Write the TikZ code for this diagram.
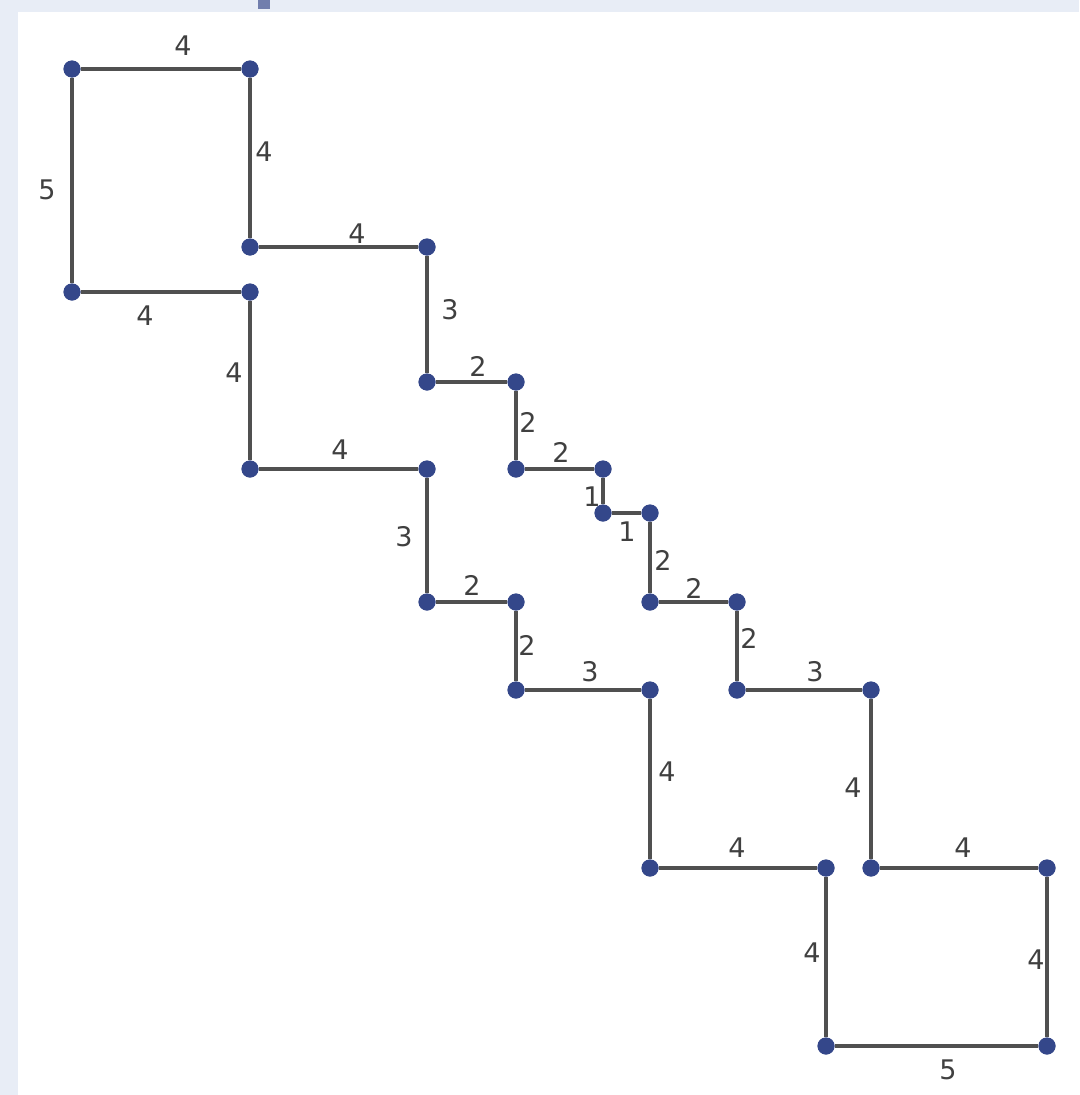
\documentclass[tikz,border=0pt]{standalone}
\usepackage{fontspec}
\setmainfont{DejaVu Sans}
\begin{document}
\begin{tikzpicture}[x=1pt,y=-1pt,
  dot/.style={circle,fill=dotblue,inner sep=0pt,minimum size=17pt},
  edge/.style={draw=linegray,line width=3.2pt},
  lab/.style={text=labgray,font=\fontsize{27}{30}\selectfont,inner sep=0pt}]
\definecolor{dotblue}{HTML}{34478A}
\definecolor{linegray}{HTML}{505050}
\definecolor{labgray}{HTML}{404040}
\definecolor{bgstrip}{HTML}{E8EDF6}
\useasboundingbox (0,0) rectangle (1079,1095);
\fill[white] (0,0) rectangle (1079,1095);
\fill[bgstrip] (0,0) rectangle (18,1095);
\fill[bgstrip] (0,0) rectangle (1079,12);
\fill[dotblue!70] (258,0) rectangle (270,9);
% vertices
\node[dot] (A) at (72,69) {};
\node[dot] (B) at (250,69) {};
\node[dot] (C) at (250,247) {};
\node[dot] (D) at (72,292) {};
\node[dot] (E) at (250,292) {};
\node[dot] (F) at (427,247) {};
\node[dot] (G) at (427,382) {};
\node[dot] (H) at (516,382) {};
\node[dot] (I) at (516,469) {};
\node[dot] (J) at (603,469) {};
\node[dot] (K) at (603,513) {};
\node[dot] (L) at (650,513) {};
\node[dot] (M) at (650,602) {};
\node[dot] (N) at (737,602) {};
\node[dot] (O) at (737,690) {};
\node[dot] (P) at (871,690) {};
\node[dot] (Q) at (871,868) {};
\node[dot] (R) at (1047,868) {};
\node[dot] (S) at (1047,1046) {};
\node[dot] (T) at (826,1046) {};
\node[dot] (U) at (826,868) {};
\node[dot] (V) at (650,868) {};
\node[dot] (W) at (650,690) {};
\node[dot] (X) at (516,690) {};
\node[dot] (Y) at (516,602) {};
\node[dot] (Z) at (427,602) {};
\node[dot] (AA) at (427,469) {};
\node[dot] (BB) at (250,469) {};
% edges
\path[edge] (A) -- (B) (B) -- (C) (A) -- (D) (D) -- (E) (C) -- (F) (F) -- (G)
  (G) -- (H) (H) -- (I) (I) -- (J) (J) -- (K) (K) -- (L) (L) -- (M) (M) -- (N)
  (N) -- (O) (O) -- (P) (P) -- (Q) (Q) -- (R) (R) -- (S) (S) -- (T) (T) -- (U)
  (U) -- (V) (V) -- (W) (W) -- (X) (X) -- (Y) (Y) -- (Z) (Z) -- (AA) (AA) -- (BB)
  (BB) -- (E);
% redraw dots above lines
\foreach \n in {A,B,C,D,E,F,G,H,I,J,K,L,M,N,O,P,Q,R,S,T,U,V,W,X,Y,Z,AA,BB}
  \fill[dotblue] (\n.center) circle (8.5pt);
% labels
\node[lab] (lAB) at (183,46) {4};
\node[lab] (lBC) at (264,152) {4};
\node[lab] (lAD) at (47,190) {5};
\node[lab] (lDE) at (145,316) {4};
\node[lab] (lCF) at (357,234) {4};
\node[lab] (lFG) at (450,310) {3};
\node[lab] (lGH) at (478,366) {2};
\node[lab] (lHI) at (528,422) {2};
\node[lab] (lIJ) at (561,452) {2};
\node[lab] (lJK) at (592,497) {1};
\node[lab] (lKL) at (627,532) {1};
\node[lab] (lLM) at (663,560) {2};
\node[lab] (lMN) at (694,588) {2};
\node[lab] (lNO) at (749,638) {2};
\node[lab] (lOP) at (815,672) {3};
\node[lab] (lPQ) at (853,788) {4};
\node[lab] (lQR) at (963,848) {4};
\node[lab] (lRS) at (1036,960) {4};
\node[lab] (lST) at (948,1070) {5};
\node[lab] (lTU) at (812,953) {4};
\node[lab] (lUV) at (737,848) {4};
\node[lab] (lVW) at (667,772) {4};
\node[lab] (lWX) at (590,672) {3};
\node[lab] (lXY) at (527,645) {2};
\node[lab] (lYZ) at (472,585) {2};
\node[lab] (lZAA) at (404,537) {3};
\node[lab] (lAABB) at (340,450) {4};
\node[lab] (lBBE) at (234,373) {4};
\end{tikzpicture}
\end{document}
